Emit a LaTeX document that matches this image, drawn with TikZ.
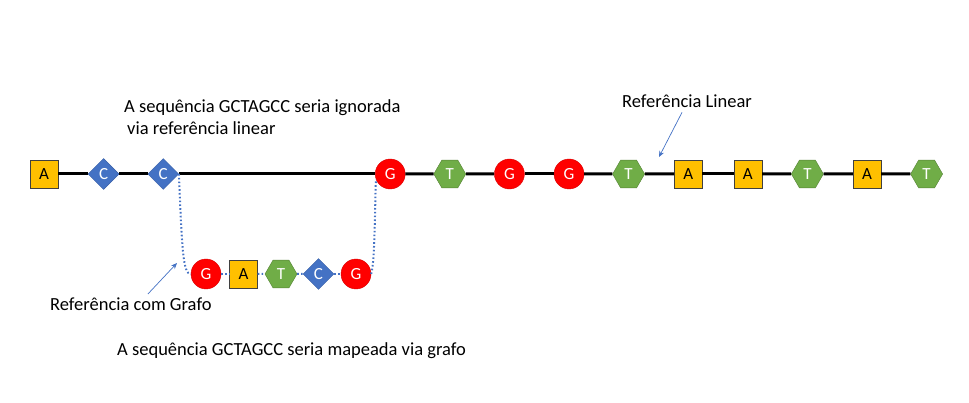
\documentclass[tikz,border=0pt]{standalone}
\usepackage{fontspec}
\setmainfont{Carlito}
\usetikzlibrary{shapes.geometric,arrows.meta,positioning}

\definecolor{nucyellow}{HTML}{FFC000}
\definecolor{nucblue}{HTML}{4472C4}
\definecolor{nucgreen}{HTML}{70AD47}
\definecolor{nucred}{HTML}{FF0000}

\begin{document}
\begin{tikzpicture}[
    x=1pt, y=1pt,
    node distance=59.6pt, on grid,
    base/.style={font=\fontsize{17}{17}\selectfont, text=white, inner sep=0pt},
    nucA/.style={base, rectangle, fill=nucyellow, draw=black!75, minimum size=28pt, text=black},
    nucC/.style={base, diamond, fill=nucblue, draw=nucblue!85!black, minimum size=31pt},
    nucG/.style={base, circle, fill=nucred, draw=nucred!85!black, minimum size=30pt},
    nucT/.style={base, regular polygon, regular polygon sides=6, fill=nucgreen, draw=nucgreen!75!black, minimum size=32pt},
    label/.style={font=\fontsize{18.5}{22}\selectfont, inner sep=0pt, anchor=base west},
    backbone/.style={line width=3pt, black},
    glink/.style={nucblue, line width=2pt, dash pattern=on 1.6pt off 2.2pt},
    pointer/.style={nucblue, line width=0.7pt, -{Stealth[length=6pt,width=5pt]}}
]
\useasboundingbox (0,0) rectangle (969,-403);

% linear reference
\node[nucA] (m1) at (44,-174) {A};
\node[nucC] (m2) [right=of m1] {C};
\node[nucC] (m3) [right=of m2] {C};
\node[nucG] (m4) [right=227pt of m3] {G};
\node[nucT] (m5) [right=of m4] {T};
\node[nucG] (m6) [right=of m5] {G};
\node[nucG] (m7) [right=of m6] {G};
\node[nucT] (m8) [right=of m7] {T};
\node[nucA] (m9) [right=of m8] {A};
\node[nucA] (m10) [right=of m9] {A};
\node[nucT] (m11) [right=of m10] {T};
\node[nucA] (m12) [right=of m11] {A};
\node[nucT] (m13) [right=of m12] {T};

\foreach \i [count=\j from 2] in {1,...,12}
    \draw[backbone] (m\i) -- (m\j);

% graph branch
\node[nucG] (g1) at (206,-274) {G};
\node[nucA] (g2) [right=37.5pt of g1] {A};
\node[nucT] (g3) [right=37.5pt of g2] {T};
\node[nucC] (g4) [right=37.5pt of g3] {C};
\node[nucG] (g5) [right=37.5pt of g4] {G};

\foreach \i [count=\j from 2] in {1,...,4}
    \draw[glink] (g\i) -- (g\j);
\draw[glink] (m3.east) .. controls (182,-250) and (183,-274) .. (g1.west);
\draw[glink] (g5.east) .. controls (375,-262) and (375,-200) .. (m4.200);

% texts
\node[label] (ign1) at (124,-113) {A sequência GCTAGCC seria ignorada};
\node[label] (ign2) at (127,-135) {via referência linear};
\node[label] (labLin) at (622,-108) {Referência Linear};
\node[label] (labGraph) at (50,-310) {Referência com Grafo};
\node[label] (map) at (117,-355) {A sequência GCTAGCC seria mapeada via grafo};

% pointers
\coordinate (linTip) at (659,-157);
\coordinate (graphTip) at (177,-263);
\draw[pointer] ([xshift=-5pt,yshift=-4pt]labLin.south) -- (linTip);
\draw[pointer] ([xshift=17pt,yshift=3pt]labGraph.north) -- (graphTip);
\end{tikzpicture}
\end{document}
